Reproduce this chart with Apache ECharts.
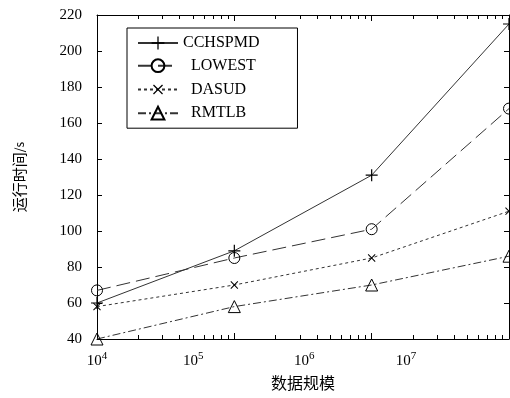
<!DOCTYPE html>
<html>
<head>
<meta charset="utf-8">
<script src="https://cdn.jsdelivr.net/npm/echarts@6/dist/echarts.min.js"></script>
<style>
html, body { margin: 0; padding: 0; background: #fff; }
#chart { width: 510px; height: 398px; }
</style>
</head>
<body>
<div id="chart"></div>
<script>
//数据规模(横轴,对数刻度)
var dataSizes = [1e4, 1e5, 1e6, 1e7];
//各算法运行时间(s)
var cchspmd = [60, 89, 131, 215];
var lowest = [67, 85, 101, 168];
var dasud = [58, 70, 85, 111];
var rmtlb = [40, 58, 70, 86];
//横轴刻度标签(10的指数)及其所在的数量级位置(原图标签与刻度有偏移)
var xTickExp = ['4', '5', '6', '7'];
var xTickAt = [0, 0.70, 1.51, 2.25];

var serif = 'Liberation Serif';
var cjk = 'Noto Sans CJK SC';
var plusPath = 'path://M4.5,0H5.5V4.5H10V5.5H5.5V10H4.5V5.5H0V4.5H4.5Z';

function toPairs(vals) {
	return dataSizes.map(function(s, i) {
		return [s, vals[i]];
	});
}

//对数横轴(底部、顶部各一条,刻度朝内)
function logAxis(pos) {
	return {
		type: 'log',
		logBase: 10,
		min: dataSizes[0],
		max: dataSizes[dataSizes.length - 1],
		position: pos,
		axisLine: { show: true, lineStyle: { color: '#000', width: 1 } },
		axisTick: { show: true, inside: true, length: 6, lineStyle: { color: '#000' } },
		minorTick: { show: true, splitNumber: 9, length: 4, lineStyle: { color: '#000' } },
		axisLabel: { show: false },
		splitLine: { show: false },
		minorSplitLine: { show: false }
	};
}

function valAxis(pos) {
	return {
		type: 'value',
		min: 40,
		max: 220,
		interval: 20,
		position: pos,
		axisLine: { show: true, lineStyle: { color: '#000', width: 1 } },
		axisTick: { show: true, inside: true, length: 5, lineStyle: { color: '#000' } },
		axisLabel: { show: pos == 'left', fontFamily: serif, fontSize: 15, color: '#000', margin: 15 },
		splitLine: { show: false }
	};
}

var xBottom = logAxis('bottom');
xBottom.name = '数据规模';
xBottom.nameLocation = 'middle';
xBottom.nameGap = 36;
xBottom.nameTextStyle = { fontFamily: cjk, fontSize: 16, color: '#000' };

var yLeft = valAxis('left');
yLeft.name = '{a|运行时间}{b|/s}';
yLeft.nameLocation = 'middle';
yLeft.nameRotate = 90;
yLeft.nameGap = 70;
yLeft.nameTextStyle = {
	color: '#000',
	rich: {
		a: { fontFamily: cjk, fontSize: 15, color: '#000' },
		b: { fontFamily: cjk, fontSize: 12, color: '#000' }
	}
};

//仅用于放置刻度标签的横轴
var xLabelAxis = {
	type: 'value',
	min: 0,
	max: 3,
	position: 'bottom',
	axisLine: { show: false },
	axisTick: { show: false },
	splitLine: { show: false },
	axisLabel: {
		show: true,
		margin: 12,
		customValues: xTickAt,
		formatter: function(v) {
			var k = 0;
			for(var i = 0; i < xTickAt.length; i++) {
				if(Math.abs(xTickAt[i] - v) < Math.abs(xTickAt[k] - v)) k = i;
			}
			return '{b|10}{s|' + xTickExp[k] + '}';
		},
		rich: {
			b: { fontFamily: serif, fontSize: 15, color: '#000' },
			s: { fontFamily: serif, fontSize: 11, color: '#000', padding: [0, 0, 9, 0] }
		}
	}
};

function lineSeries(name, vals, lineType, symbol, symbolSize, itemStyle, rotate) {
	return {
		name: name,
		type: 'line',
		xAxisIndex: 0,
		yAxisIndex: 0,
		data: toPairs(vals),
		symbol: symbol,
		symbolSize: symbolSize,
		symbolRotate: rotate || 0,
		lineStyle: { color: '#333', width: 1, type: lineType },
		itemStyle: itemStyle,
		emphasis: { disabled: true },
		animation: false
	};
}

var chart = echarts.init(document.getElementById('chart'));
var option = {
	backgroundColor: '#fff',
	animation: false,
	grid: {
		left: 97,
		right: 1,
		top: 15,
		bottom: 59,
		containLabel: false,
		outerBoundsMode: 'none'
	},
	legend: {
		orient: 'vertical',
		left: 127,
		top: 28,
		padding: [7, 38, 7, 10],
		itemWidth: 40,
		itemHeight: 16,
		itemGap: 6.7,
		borderColor: '#000',
		borderWidth: 1,
		backgroundColor: '#fff',
		formatter: function(name) {
			return name == 'CCHSPMD' ? name : '  ' + name;
		},
		textStyle: { fontFamily: serif, fontSize: 16, color: '#000', lineHeight: 16 },
		data: ['CCHSPMD', 'LOWEST', 'DASUD', 'RMTLB']
	},
	xAxis: [xBottom, logAxis('top'), xLabelAxis],
	yAxis: [yLeft, valAxis('right')],
	series: [
		lineSeries('CCHSPMD', cchspmd, 'solid', plusPath, 12, { color: '#000' }),
		lineSeries('LOWEST', lowest, [14, 6], 'circle', 11, { color: 'rgba(0,0,0,0)', borderColor: '#000', borderWidth: 1 }),
		lineSeries('DASUD', dasud, [3, 3], plusPath, 10, { color: '#000' }, 45),
		lineSeries('RMTLB', rmtlb, [8, 3, 2, 3], 'triangle', 12, { color: 'rgba(0,0,0,0)', borderColor: '#000', borderWidth: 1 })
	]
};
chart.setOption(option);
</script>
</body>
</html>
